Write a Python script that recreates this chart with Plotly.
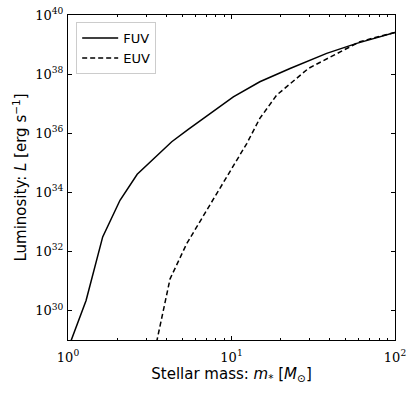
import plotly.graph_objects as go

# FUV luminosity (log10 erg/s) vs stellar mass (Msun)
fuv_mass = [1.0, 1.29, 1.63, 2.08, 2.65, 3.49, 4.31, 5.44, 7.05, 9.55, 10.26, 14.9, 22.8, 38.2, 58.3, 100.0]
fuv_logL = [28.7, 30.34, 32.49, 33.73, 34.61, 35.25, 35.71, 36.13, 36.58, 37.12, 37.23, 37.74, 38.19, 38.70, 39.04, 39.41]

# EUV luminosity (log10 erg/s) vs stellar mass (Msun)
euv_mass = [3.4, 4.21, 5.32, 7.05, 9.35, 12.4, 14.9, 18.9, 29.5, 48.3, 61.1, 100.0]
euv_logL = [28.66, 31.07, 32.26, 33.39, 34.52, 35.65, 36.50, 37.29, 38.19, 38.81, 39.10, 39.41]

x_ticks = [1, 10, 100]
x_ticktext = ["10<sup>0</sup>", "10<sup>1</sup>", "10<sup>2</sup>"]
x_minor = [2, 3, 4, 5, 6, 7, 8, 9, 20, 30, 40, 50, 60, 70, 80, 90]
y_ticks = [1e30, 1e32, 1e34, 1e36, 1e38, 1e40]
y_ticktext = ["10<sup>30</sup>", "10<sup>32</sup>", "10<sup>34</sup>", "10<sup>36</sup>", "10<sup>38</sup>", "10<sup>40</sup>"]

fig = go.Figure()
fig.add_trace(go.Scatter(x=fuv_mass, y=[10 ** v for v in fuv_logL], mode="lines",
                         name="FUV", line=dict(color="black", width=1.5)))
fig.add_trace(go.Scatter(x=euv_mass, y=[10 ** v for v in euv_logL], mode="lines",
                         name="EUV", line=dict(color="black", width=1.5, dash="5px,3px")))

tickfont = dict(family="DejaVu Serif", size=13, color="black")
titlefont = dict(family="DejaVu Sans", size=15, color="black")

fig.update_layout(
    width=416, height=394,
    margin=dict(l=68, r=21, t=15, b=54, autoexpand=False),
    plot_bgcolor="white", paper_bgcolor="white",
    showlegend=True,
    legend=dict(x=0.025, y=0.978, xanchor="left", yanchor="top",
                bordercolor="#cccccc", borderwidth=1, bgcolor="white",
                font=dict(family="DejaVu Sans", size=13, color="black"),
                itemwidth=36, tracegroupgap=0),
    xaxis=dict(type="log", range=[0, 2], tickmode="array", tickvals=x_ticks, ticktext=x_ticktext,
               ticks="inside", ticklen=4, tickwidth=1, tickcolor="black", automargin=False,
               showline=True, linecolor="black", linewidth=1.2, mirror="ticks",
               showgrid=False, zeroline=False, tickfont=tickfont, ticklabelstandoff=5,
               minor=dict(tickmode="array", tickvals=x_minor, ticks="inside", ticklen=2,
                          tickcolor="black", showgrid=False),
               title=dict(text="Stellar mass: <i>m</i><sub>*</sub> [<i>M</i><sub>⊙</sub>]",
                          font=titlefont, standoff=4)),
    yaxis=dict(type="log", range=[29, 40], tickmode="array", tickvals=y_ticks, ticktext=y_ticktext,
               ticks="inside", ticklen=4, tickwidth=1, tickcolor="black", automargin=False,
               showline=True, linecolor="black", linewidth=1.2, mirror="ticks",
               showgrid=False, zeroline=False, tickfont=tickfont, ticklabelstandoff=1,
               title=dict(text="Luminosity: <i>L</i> [erg s<sup>−1</sup>]",
                          font=titlefont, standoff=4)),
)

fig.write_html("out.html", config={"displayModeBar": False},
               post_script="document.body.style.margin='0';")
